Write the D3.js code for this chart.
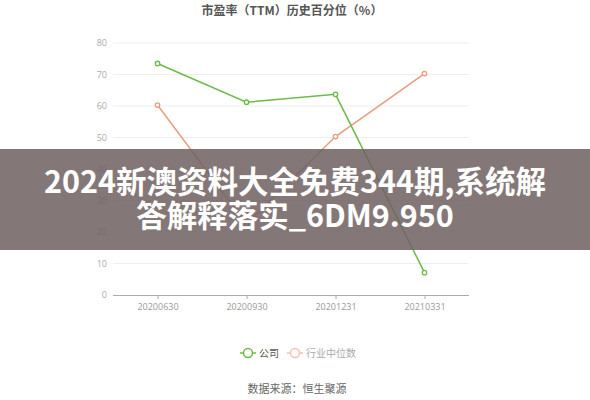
<!DOCTYPE html>
<html>
<head>
<meta charset="utf-8">
<script src="https://cdn.jsdelivr.net/npm/d3@7"></script>
<style>
  body { margin: 0; background: #fff; }
  svg { display: block; font-family: "Noto Sans CJK SC", "Noto Sans", sans-serif; }
</style>
</head>
<body>
<svg id="chart" width="590" height="400"></svg>
<script>
var categories = ["20200630", "20200930", "20201231", "20210331"];
var companyValues = [73.5, 61.2, 63.7, 7.1];
var industryValues = [60.3, 22.5, 50.3, 70.3];
var yTicks = [0, 10, 20, 30, 40, 50, 60, 70, 80];
var seriesNames = ["公司", "行业中位数"];
var titleText = "市盈率（TTM）历史百分位（%）";
var sourceText = "数据来源：恒生聚源";
var bannerLines = ["2024新澳资料大全免费344期,系统解", "答解释落实_6DM9.950"];

var GREEN = "#6cbb47", ORANGE = "#e99c7e";

var svg = d3.select("#chart");

var x = d3.scalePoint().domain(categories).range([113, 469]).padding(0.5);
var y = d3.scaleLinear().domain([0, 80]).range([295, 43]);

// title
svg.append("text")
  .attr("x", 292).attr("y", 15)
  .attr("text-anchor", "middle")
  .style("font-size", "12px").style("font-weight", "bold")
  .style("fill", "#555")
  .text(titleText);

// grid
svg.append("g").selectAll("line").data(yTicks.slice(1)).enter().append("line")
  .attr("x1", 113).attr("x2", 469)
  .attr("y1", function (d) { return y(d); })
  .attr("y2", function (d) { return y(d); })
  .style("stroke", "#eeeeee").style("stroke-width", 1);

// y axis labels
var yAxis = svg.append("g").attr("transform", "translate(113,0)")
  .call(d3.axisLeft(y).tickValues(yTicks).tickSize(0).tickPadding(6));
yAxis.select(".domain").remove();
yAxis.selectAll("text").style("font-size", "9px").style("fill", "#aaa")
  .style("font-family", "'Open Sans', sans-serif");

// x axis
var xAxis = svg.append("g").attr("transform", "translate(0," + y(0) + ")")
  .call(d3.axisBottom(x).tickSizeOuter(0).tickSizeInner(4).tickPadding(5));
xAxis.select(".domain").attr("d", "M113,0.5H469").style("stroke", "#aaa");
xAxis.selectAll(".tick line").style("stroke", "#aaa");
xAxis.selectAll("text").style("font-size", "9px").style("fill", "#999")
  .style("font-family", "'Open Sans', sans-serif");

// lines
var line = d3.line()
  .x(function (d, i) { return x(categories[i]); })
  .y(function (d) { return y(d); });

[[industryValues, ORANGE], [companyValues, GREEN]].forEach(function (s) {
  svg.append("path").datum(s[0])
    .attr("d", line)
    .style("fill", "none").style("stroke", s[1]).style("stroke-width", 1.5);
  svg.append("g").selectAll("circle").data(s[0]).enter().append("circle")
    .attr("cx", function (d, i) { return x(categories[i]); })
    .attr("cy", function (d) { return y(d); })
    .attr("r", 2.2)
    .style("fill", "#fff").style("stroke", s[1]).style("stroke-width", 1.3);
});

// legend
var legend = svg.append("g").attr("transform", "translate(0,353)");
var items = [[seriesNames[0], GREEN, "#555", 248], [seriesNames[1], "#f2c4b4", "#aaa", 295]];
items.forEach(function (it) {
  legend.append("line").attr("x1", it[3] - 8).attr("x2", it[3] + 8)
    .style("stroke", it[1]).style("stroke-width", 1.5);
  legend.append("circle").attr("cx", it[3]).attr("r", 4.5)
    .style("fill", "#fff").style("stroke", it[1]).style("stroke-width", 1.5);
  legend.append("text").attr("x", it[3] + 11).attr("dy", "0.35em")
    .style("font-size", "10px").style("fill", it[2]).text(it[0]);
});

// source
svg.append("text")
  .attr("x", 297).attr("y", 393)
  .attr("text-anchor", "middle")
  .style("font-size", "11px").style("fill", "#666")
  .text(sourceText);

// overlay banner
svg.append("rect")
  .attr("x", 0).attr("y", 149).attr("width", 590).attr("height", 101)
  .style("fill", "rgba(112,97,97,0.86)");
svg.append("g").selectAll("text").data(bannerLines).enter().append("text")
  .attr("x", 295)
  .attr("y", function (d, i) { return 193 + i * 34; })
  .attr("text-anchor", "middle")
  .style("font-size", "30.5px").style("font-weight", "bold").style("fill", "#fff")
  .text(function (d) { return d; });
</script>
</body>
</html>
